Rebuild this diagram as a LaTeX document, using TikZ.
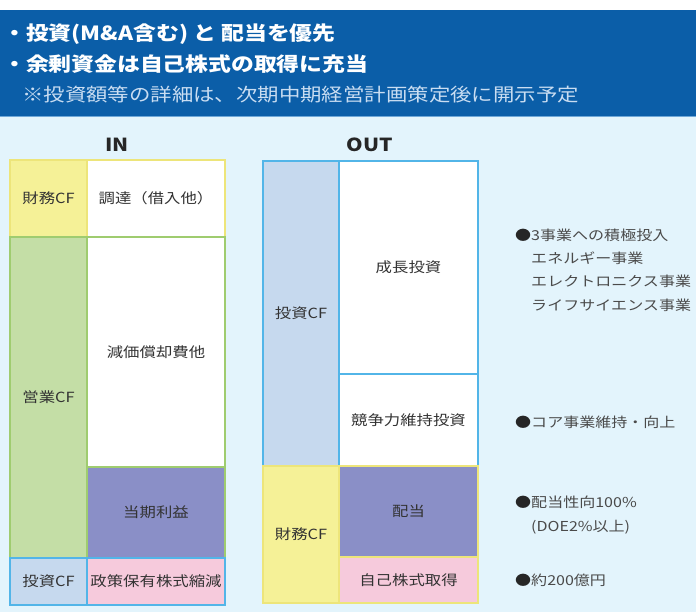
\documentclass[tikz,border=0pt]{standalone}
\usepackage{fontspec}
\newfontfamily\jp[FakeStretch=1.17]{Noto Sans CJK JP}
\definecolor{band}{HTML}{0B5EA8}
\definecolor{bandline}{HTML}{6FA8D8}
\definecolor{bg}{HTML}{E3F4FC}
\definecolor{yellowF}{HTML}{F5F197}
\definecolor{yellowB}{HTML}{EDE57A}
\definecolor{greenF}{HTML}{C4DEA6}
\definecolor{greenB}{HTML}{9FCC6F}
\definecolor{purpleF}{HTML}{8A8FC7}
\definecolor{pinkF}{HTML}{F6CADC}
\definecolor{lblueF}{HTML}{C6D9EE}
\definecolor{blueB}{HTML}{52B5E8}
\definecolor{subhdr}{HTML}{C9DDF2}
\definecolor{labelgray}{HTML}{333333}
\definecolor{notegray}{HTML}{4A4A4A}
\tikzset{
  box/.style={draw, line width=1.4pt, inner sep=0pt, outer sep=0pt,
    font=\jp\fontsize{14}{16}\selectfont, text=labelgray},
  hdr/.style={anchor=west, inner sep=0pt, text=white,
    font=\jp\bfseries\fontsize{19.5}{22}\selectfont},
  subh/.style={anchor=west, inner sep=0pt, text=subhdr,
    font=\jp\fontsize{18.3}{22}\selectfont},
  colhead/.style={inner sep=0pt, text=black!85,
    font=\jp\bfseries\fontsize{18}{20}\selectfont},
  note/.style={anchor=west, inner sep=0pt, align=left, text=notegray,
    font=\jp\fontsize{13.7}{23.3}\selectfont},
}
\newcommand{\blt}{\textcolor{black!85}{●}}
\newcommand{\ind}{\hphantom{●}}
\begin{document}
\begin{tikzpicture}[x=1pt,y=-1pt]
\useasboundingbox (0,0) rectangle (696,612);
\fill[white] (0,0) rectangle (696,612);
\fill[bg] (0,117) rectangle (696,612);
\fill[band] (0,10) rectangle (696,116);
\fill[bandline] (0,116) rectangle (696,117.5);

% header
\node[hdr] (h1) at (3,34) {・投資(M\&A含む) と 配当を優先};
\node[hdr] (h2) at (3,64) {・余剰資金は自己株式の取得に充当};
\node[subh] (h3) at (22,95) {※投資額等の詳細は、次期中期経営計画策定後に開示予定};

% column heads
\node[colhead] (inhead) at (117,145) {IN};
\node[colhead] (outhead) at (370,145) {OUT};

% IN
\node[box, fill=yellowF, draw=yellowB, minimum width=77pt, minimum height=77pt] (inFinL) at (48.5,198.5) {財務CF};
\node[box, fill=white, draw=yellowB, minimum width=138pt, minimum height=77pt] (inFinR) at (156,198.5) {調達（借入他）};
\node[box, fill=greenF, draw=greenB, minimum width=77pt, minimum height=321pt] (inOpL) at (48.5,397.5) {営業CF};
\node[box, fill=white, draw=greenB, minimum width=138pt, minimum height=230pt] (inDep) at (156,352) {減価償却費他};
\node[box, fill=purpleF, draw=greenB, minimum width=138pt, minimum height=91pt] (inProfit) at (156,512.5) {当期利益};
\node[box, fill=lblueF, draw=blueB, minimum width=77pt, minimum height=47pt] (inInvL) at (48.5,581.5) {投資CF};
\node[box, fill=pinkF, draw=blueB, minimum width=138pt, minimum height=47pt] (inInvR) at (156,581.5) {政策保有株式縮減};

% OUT
\node[box, fill=lblueF, draw=blueB, minimum width=76pt, minimum height=305pt] (outInvL) at (301,313.5) {投資CF};
\node[box, fill=white, draw=blueB, minimum width=139pt, minimum height=213pt] (outGrowth) at (408.5,267.5) {成長投資};
\node[box, fill=white, draw=blueB, minimum width=139pt, minimum height=92pt] (outComp) at (408.5,420) {競争力維持投資};
\node[box, fill=yellowF, draw=yellowB, minimum width=76pt, minimum height=137pt] (outFinL) at (301,534.5) {財務CF};
\node[box, fill=purpleF, draw=yellowB, minimum width=139pt, minimum height=91pt] (outDiv) at (408.5,511.5) {配当};
\node[box, fill=pinkF, draw=yellowB, minimum width=139pt, minimum height=46pt] (outBuy) at (408.5,580) {自己株式取得};

% notes
\node[note] (n1) at (515,270) {\blt 3事業への積極投入\\ \ind エネルギー事業\\ \ind エレクトロニクス事業\\ \ind ライフサイエンス事業};
\node[note] (n2) at (515,422) {\blt コア事業維持・向上};
\node[note] (n3) at (515,515) {\blt 配当性向100\%\\ \ind (DOE2\%以上)};
\node[note] (n4) at (515,580) {\blt 約200億円};
\end{tikzpicture}
\end{document}
